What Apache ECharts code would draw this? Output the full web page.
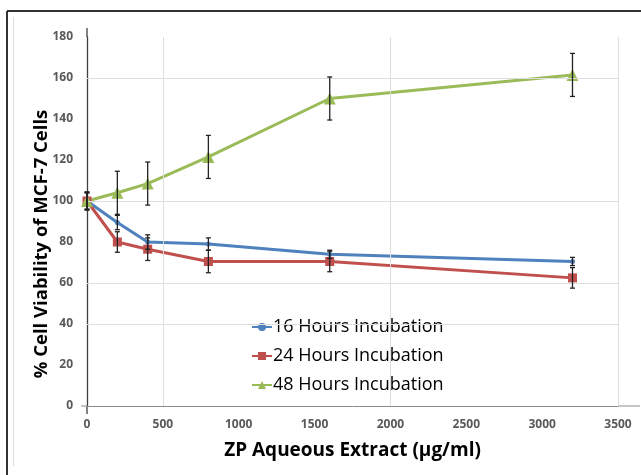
<!DOCTYPE html>
<html>
<head>
<meta charset="utf-8">
<script src="https://cdn.jsdelivr.net/npm/echarts@6/dist/echarts.min.js"></script>
<style>html,body{margin:0;padding:0;background:#fff}#c{width:641px;height:475px}</style>
</head>
<body>
<div id="c"></div>
<script>
const concentrations = [0, 200, 400, 800, 1600, 3200];
const seriesNames = ['16 Hours Incubation', '24 Hours Incubation', '48 Hours Incubation'];
const h16 = [100, 89.5, 80, 79, 74, 70.5];
const h16err = [4, 3.5, 3.5, 3, 2, 2];
const h24 = [100, 80, 76.5, 70.5, 70.5, 62.5];
const h24err = [4, 5, 5.5, 5.5, 5, 5];
const h48 = [100, 104, 108.5, 121.5, 150, 161.5];
const h48err = [4.5, 10.5, 10.5, 10.5, 10.5, 10.5];
const xTicks = [0, 500, 1000, 1500, 2000, 2500, 3000, 3500];
const yTicks = [0, 20, 40, 60, 80, 100, 120, 140, 160, 180];
const xGridLines = [500, 2000, 3500];
const yGridLines = [40, 60, 100, 160];
const xTitle = 'ZP Aqueous Extract (\u00b5g/ml)';
const yTitle = '% Cell Viability of MCF-7 Cells';

const colors = ['#4F81BD', '#C0504D', '#9BBB59'];
const font = 'Open Sans';

function pairs(vals) { return concentrations.map((x, i) => [x, vals[i]]); }
function errData(vals, errs) { return concentrations.map((x, i) => [x, vals[i] - errs[i], vals[i] + errs[i]]); }

function errSeries(vals, errs) {
  return {
    type: 'custom',
    data: errData(vals, errs),
    z: 5,
    silent: true,
    renderItem: function (params, api) {
      const lo = api.coord([api.value(0), api.value(1)]);
      const hi = api.coord([api.value(0), api.value(2)]);
      const w = 2.5;
      const st = { stroke: '#222', lineWidth: 1.3 };
      return {
        type: 'group',
        children: [
          { type: 'line', shape: { x1: lo[0], y1: lo[1], x2: hi[0], y2: hi[1] }, style: st },
          { type: 'line', shape: { x1: lo[0] - w, y1: lo[1], x2: lo[0] + w, y2: lo[1] }, style: st },
          { type: 'line', shape: { x1: hi[0] - w, y1: hi[1], x2: hi[0] + w, y2: hi[1] }, style: st }
        ]
      };
    }
  };
}

const chart = echarts.init(document.getElementById('c'), null, { renderer: 'canvas' });
chart.setOption({
  animation: false,
  backgroundColor: '#fff',
  color: colors,
  grid: { left: 87, right: 23, top: 37, bottom: 69 },
  graphic: [
    { type: 'line', shape: { x1: 7, y1: 11, x2: 641, y2: 11 }, style: { stroke: '#333', lineWidth: 2 } },
    { type: 'line', shape: { x1: 7, y1: 11, x2: 7, y2: 475 }, style: { stroke: '#333', lineWidth: 2 } },
    { type: 'line', shape: { x1: 13.5, y1: 17, x2: 13.5, y2: 466 }, style: { stroke: '#dcdcdc', lineWidth: 1 } },
    { type: 'line', shape: { x1: 87, y1: 28, x2: 87, y2: 37 }, style: { stroke: '#404040', lineWidth: 1.3 } },
    { type: 'line', shape: { x1: 87, y1: 406, x2: 87, y2: 414 }, style: { stroke: '#404040', lineWidth: 1.3 } },
    { type: 'line', shape: { x1: 81, y1: 406, x2: 87, y2: 406 }, style: { stroke: '#8c8c8c', lineWidth: 1 } },
    { type: 'line', shape: { x1: 618, y1: 406, x2: 640, y2: 406 }, style: { stroke: '#8c8c8c', lineWidth: 1 } },
    {
      type: 'text', x: 42, y: 244, rotation: Math.PI / 2,
      style: { text: yTitle, fontFamily: font, fontSize: 18.5, fontWeight: 'bold', fill: '#000', align: 'center', verticalAlign: 'middle' }
    }
  ],
  legend: {
    orient: 'vertical',
    left: 246,
    top: 313,
    itemWidth: 20,
    itemHeight: 10,
    itemGap: 11,
    data: seriesNames,
    textStyle: { fontFamily: font, fontSize: 18, color: '#000', padding: [0, 0, 0, -4] }
  },
  xAxis: {
    type: 'value',
    min: 0, max: 3500, interval: 500,
    name: xTitle,
    nameLocation: 'middle',
    nameGap: 35,
    nameTextStyle: { fontFamily: font, fontSize: 19, fontWeight: 'bold', color: '#000' },
    axisLine: { lineStyle: { color: '#8c8c8c', width: 1 } },
    axisTick: { show: false },
    splitLine: { show: false },
    axisLabel: { fontFamily: font, fontSize: 12, fontWeight: 'bold', color: '#595959', margin: 13, formatter: v => String(v) }
  },
  yAxis: {
    type: 'value',
    min: 0, max: 180, interval: 20,
    axisLine: { show: true, lineStyle: { color: '#404040', width: 1.3 } },
    axisTick: { show: false },
    splitLine: { show: false },
    axisLabel: { fontFamily: font, fontSize: 12, fontWeight: 'bold', color: '#595959', margin: 14, formatter: v => String(v) }
  },
  series: [
    {
      name: seriesNames[0], type: 'line', data: pairs(h16), z: 3,
      symbol: 'circle', symbolSize: 5,
      lineStyle: { width: 3, color: colors[0] }, itemStyle: { color: colors[0] },
      markLine: {
        silent: true, symbol: 'none', label: { show: false },
        lineStyle: { color: '#dedede', width: 1, type: 'solid' },
        data: xGridLines.map(v => ({ xAxis: v })).concat(yGridLines.map(v => ({ yAxis: v })))
      }
    },
    {
      name: seriesNames[1], type: 'line', data: pairs(h24), z: 3,
      symbol: 'rect', symbolSize: 9,
      lineStyle: { width: 3, color: colors[1] }, itemStyle: { color: colors[1] }
    },
    {
      name: seriesNames[2], type: 'line', data: pairs(h48), z: 3,
      symbol: 'triangle', symbolSize: 12,
      lineStyle: { width: 3, color: colors[2] }, itemStyle: { color: colors[2] }
    },
    errSeries(h16, h16err),
    errSeries(h24, h24err),
    errSeries(h48, h48err)
  ]
});
</script>
</body>
</html>
